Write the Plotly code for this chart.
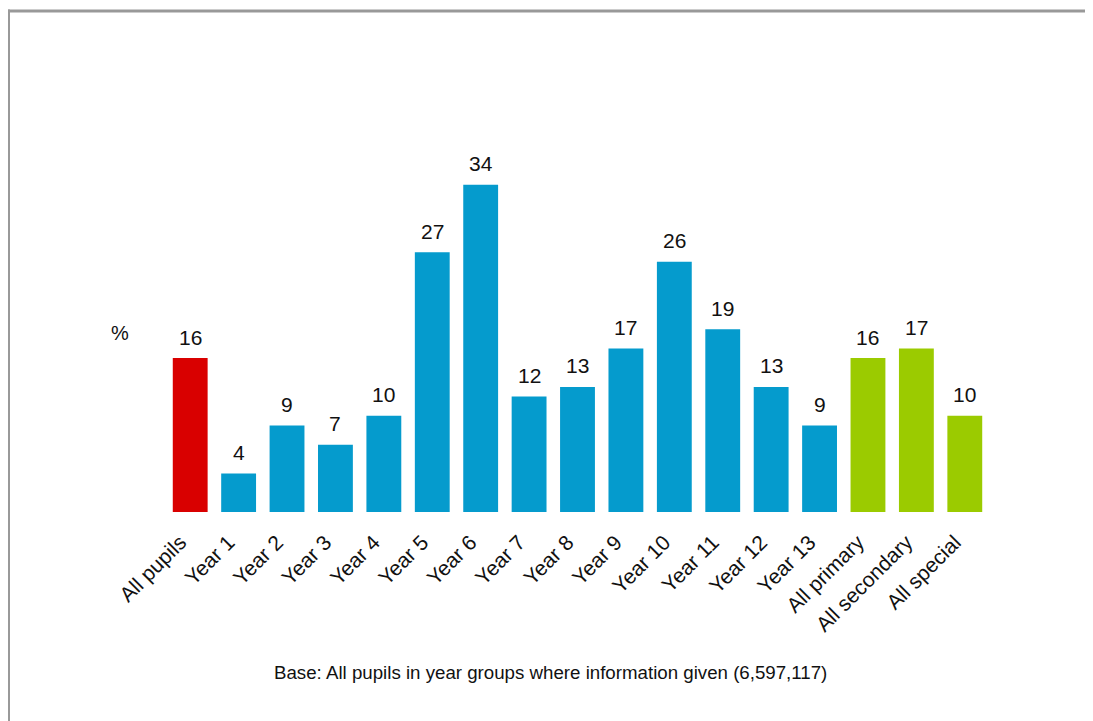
import plotly.graph_objects as go

categories = ["All pupils", "Year 1", "Year 2", "Year 3", "Year 4", "Year 5", "Year 6",
              "Year 7", "Year 8", "Year 9", "Year 10", "Year 11", "Year 12", "Year 13",
              "All primary", "All secondary", "All special"]
values = [16, 4, 9, 7, 10, 27, 34, 12, 13, 17, 26, 19, 13, 9, 16, 17, 10]
groups = ["all"] + ["year"] * 13 + ["phase"] * 3

color_map = {"all": "#D90000", "year": "#059BCD", "phase": "#9BCB00"}
colors = [color_map[g] for g in groups]

FONT = "Liberation Sans, Arial, sans-serif"
W, H = 1093, 721
OFF = 8  # page body margin
ml, mr, mt, mb = 158, 112, 119, 217
pw, ph = W - ml - mr, H - mt - mb


def px_x(sx):
    return (sx - OFF - ml) / pw


def px_y(sy):
    return (H - mb - (sy - OFF)) / ph


fig = go.Figure(go.Bar(
    x=categories, y=values, marker=dict(color=colors, line=dict(width=0)),
    hoverinfo="x+y",
))

annotations = [
    dict(x=c, y=v, xref="x", yref="y", text=str(v), showarrow=False,
         xanchor="center", yanchor="middle", yshift=21,
         font=dict(family=FONT, size=21, color="#111111"))
    for c, v in zip(categories, values)
]
annotations += [
    dict(text="%", x=px_x(120), y=px_y(333), xref="paper", yref="paper",
         xanchor="center", yanchor="middle", showarrow=False,
         font=dict(family=FONT, size=20, color="#111111")),
    dict(text="Base: All pupils in year groups where information given (6,597,117)",
         x=px_x(550.5), y=px_y(672), xref="paper", yref="paper",
         xanchor="center", yanchor="middle", showarrow=False,
         font=dict(family=FONT, size=18.7, color="#111111")),
]

fig.update_layout(
    width=W, height=H,
    margin=dict(l=ml, r=mr, t=mt, b=mb),
    paper_bgcolor="white", plot_bgcolor="white",
    bargap=0.28, showlegend=False,
    font=dict(family=FONT, color="#111111"),
    xaxis=dict(tickangle=-45, tickfont=dict(family=FONT, size=21, color="#111111"),
               showline=False, ticks="", ticklabelstandoff=13, ticklabelshift=-10,
               showgrid=False, zeroline=False),
    yaxis=dict(range=[0, 40], visible=False, showgrid=False, zeroline=False),
    annotations=annotations,
    shapes=[
        dict(type="line", xref="paper", yref="paper", x0=px_x(8), x1=px_x(1110),
             y0=px_y(11), y1=px_y(11), line=dict(color="#999999", width=3)),
        dict(type="line", xref="paper", yref="paper", x0=px_x(8.5), x1=px_x(8.5),
             y0=px_y(9.5), y1=px_y(740), line=dict(color="#999999", width=3)),
    ],
)

fig.write_html("out.html")
